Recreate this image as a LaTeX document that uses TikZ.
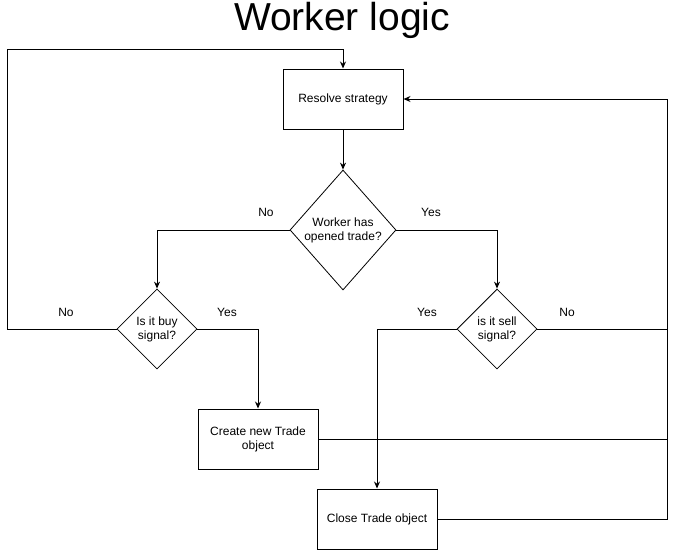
\documentclass[tikz,border=0pt]{standalone}
\usepackage{fontspec}
\setmainfont{Liberation Sans}
\usetikzlibrary{shapes.geometric,arrows.meta}
\begin{document}
\begin{tikzpicture}[x=1pt,y=-1pt,
  every node/.style={font=\fontsize{12}{14}\selectfont},
  procbox/.style={draw,line width=1pt,rectangle,minimum width=120pt,minimum height=60pt,inner sep=0pt,align=center},
  decision/.style={draw,line width=0.8pt,diamond,inner sep=0pt},
  qtext/.style={align=center,inner sep=0pt},
  link/.style={line width=1pt},
  flow/.style={line width=1pt,-{Stealth[length=7pt,width=6pt]}},
  branch/.style={inner sep=0pt}]
\useasboundingbox (0,0) rectangle (676,550);

% title
\node[inner sep=0pt,font=\fontsize{39}{46}\selectfont] (title) at (342,20) {Worker logic};

% process steps
\node[procbox] (resolve) at (343,99) {Resolve strategy};
\node[procbox] (create) at (258,439) {Create new Trade\\object};
\node[procbox] (close) at (377,519) {Close Trade object};

% decisions
\node[decision,minimum width=106pt,minimum height=120pt] (q1) at (343,230) {};
\node[qtext] (q1t) at (q1.center) {Worker has\\opened trade?};
\node[decision,minimum width=80pt,minimum height=80pt] (buy) at (157,329) {};
\node[qtext] (buyt) at (buy.center) {Is it buy\\signal?};
\node[decision,minimum width=80pt,minimum height=80pt] (sell) at (497,329) {};
\node[qtext] (sellt) at (sell.center) {is it sell\\signal?};

% corner points of the return paths
\coordinate (lt) at (7,49);
\coordinate (rt) at (667,99);

% connectors
\draw[flow] (resolve.south) -- (q1.north);
\draw[flow] (q1.west) -| (buy.north);
\draw[flow] (q1.east) -| (sell.north);
\draw[flow] (buy.east) -| (create.north);
\draw[flow] (sell.west) -| (close.north);
\draw[flow] (buy.west) -| (lt) -| (resolve.north);
\draw[flow] (close.east) -| (rt) -- (resolve.east);
\draw[link] (create.east) -- (create.east -| rt);
\draw[link] (sell.east) -- (sell.east -| rt);

% branch labels
\node[branch] (l1) at (266,212) {No};
\node[branch] (l2) at (431,212) {Yes};
\node[branch] (l3) at (66,312) {No};
\node[branch] (l4) at (227,312) {Yes};
\node[branch] (l5) at (427,312) {Yes};
\node[branch] (l6) at (567,312) {No};
\end{tikzpicture}
\end{document}
